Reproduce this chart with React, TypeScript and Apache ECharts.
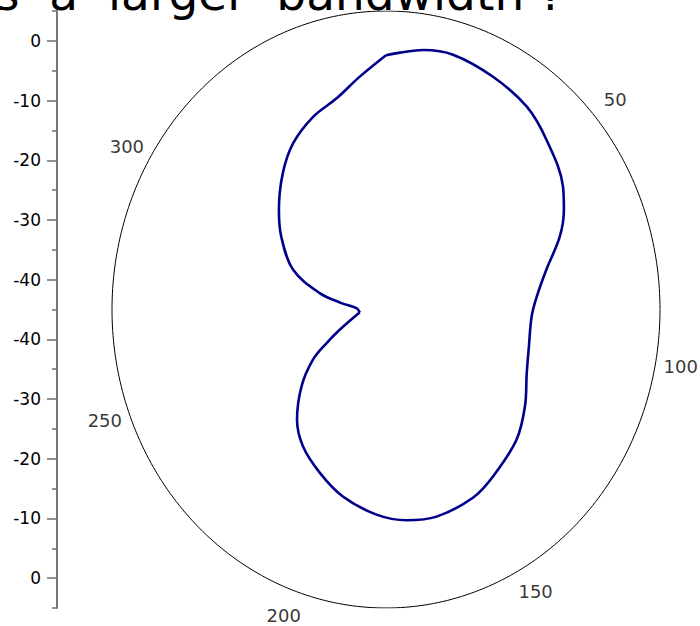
import React, { useEffect, useRef } from "react";
import * as echarts from "echarts";

// Polar pattern: angle (degrees, clockwise from top) and gain (dB)
const angles = [
  0, 3.4, 8.9, 16.0, 26.6, 37.1, 45.9, 57.5, 62.8, 68.9, 77.2, 85.5, 92.5,
  103.3, 112.5, 122.6, 132.5, 145.0, 153.3, 165.1, 173.9, 182.9, 194.1, 203.8,
  213.4, 221.3, 230.1, 237.7, 242.6, 248.1, 264.4, 272.5, 277.5, 282.8, 291.4,
  302.6, 310.5, 320.5, 328.7, 337.6, 345.7, 353.0, 360,
];
const gainDb = [
  -2.4, -1.9, -1.0, -0.6, -1.4, -2.4, -4.2, -6.7, -8.5, -11.0, -15.0, -17.4,
  -18.4, -18.2, -17.2, -14.9, -12.7, -10.9, -9.7, -9.1, -9.5, -10.6, -12.7,
  -15.1, -17.5, -20.4, -24.9, -29.2, -32.8, -35.9, -40.2, -39.6, -36.8, -32.6,
  -26.8, -22.3, -19.3, -15.4, -12.4, -10.1, -8.5, -5.7, -2.4,
];
const angleTickLabels = [50, 100, 150, 200, 250, 300];
const radialTickLabels = [0, -10, -20, -30, -40];
const radialMinorTicks = [5, -5, -15, -25, -35, -45];
const radialMin = -45;
const radialMax = 5;
const angleLabelRadius = 9.6;
const titleText = "s  a  larger  bandwidth ?";

const span = radialMax - radialMin;
const toXY = (deg: number, db: number) => {
  const rho = db - radialMin;
  const t = (deg * Math.PI) / 180;
  return [rho * Math.sin(t), rho * Math.cos(t)];
};

export default function App() {
  const ref = useRef<HTMLDivElement>(null);
  useEffect(() => {
    if (!ref.current) return;
    const chart = echarts.init(ref.current, undefined, { renderer: "svg" });

    const pts = angles.map((a, i) => toXY(a, gainDb[i]));
    let tipIdx = 0;
    gainDb.forEach((g, i) => {
      if (g < gainDb[tipIdx]) tipIdx = i;
    });
    const seg1 = pts.slice(0, tipIdx + 1);
    const seg2 = pts.slice(tipIdx);

    const frame: number[][] = [];
    for (let a = 0; a <= 360; a += 1) frame.push(toXY(a, radialMax));

    const labelPts = angleTickLabels.map((a) => {
      const [x, y] = toXY(a, angleLabelRadius);
      return { value: [x, y], name: String(a) };
    });

    const majorVals: number[] = [];
    radialTickLabels.forEach((t) => {
      const r = t - radialMin;
      majorVals.push(r, -r);
    });
    const minorVals: number[] = [];
    radialMinorTicks.forEach((t) => {
      const r = t - radialMin;
      minorVals.push(r);
      if (r !== 0) minorVals.push(-r);
    });

    const axisColor = "#6e6e6e";
    const lineStyle = { color: "#00008b", width: 2.6 };

    chart.setOption({
      animation: false,
      grid: { left: 112, top: 11, width: 548, height: 597, containLabel: false },
      xAxis: { type: "value", min: -span, max: span, show: false },
      yAxis: [
        { type: "value", min: -span, max: span, show: false },
        {
          type: "value",
          min: -span,
          max: span,
          position: "left",
          offset: 55,
          axisLine: { show: true, lineStyle: { color: axisColor, width: 1.5 } },
          axisTick: {
            show: true,
            length: 5,
            customValues: minorVals,
            lineStyle: { color: axisColor, width: 1.5 },
          },
          axisLabel: { show: false },
          splitLine: { show: false },
        },
        {
          type: "value",
          min: -span,
          max: span,
          position: "left",
          offset: 55,
          axisLine: { show: true, lineStyle: { color: axisColor, width: 1.5 } },
          axisTick: {
            show: true,
            length: 10,
            customValues: majorVals,
            lineStyle: { color: axisColor, width: 1.5 },
          },
          axisLabel: {
            show: true,
            customValues: majorVals,
            margin: 16,
            fontSize: 17,
            fontFamily: "DejaVu Sans",
            color: "#000",
            formatter: (v: number) => String(Math.round(Math.abs(v) + radialMin)),
          },
          splitLine: { show: false },
        },
      ],
      graphic: [
        {
          type: "text",
          x: -5,
          y: -7,
          style: {
            text: titleText,
            font: '47px "DejaVu Sans"',
            fill: "#000",
            align: "left",
            verticalAlign: "middle",
          },
        },
      ],
      series: [
        {
          type: "line",
          data: frame,
          showSymbol: false,
          silent: true,
          lineStyle: { color: "#000", width: 1 },
        },
        {
          type: "line",
          data: seg1,
          showSymbol: false,
          smooth: 0.35,
          lineStyle,
        },
        {
          type: "line",
          data: seg2,
          showSymbol: false,
          smooth: 0.35,
          lineStyle,
        },
        {
          type: "scatter",
          data: labelPts,
          symbolSize: 0,
          silent: true,
          clip: false,
          label: {
            show: true,
            position: "inside",
            formatter: (p: any) => p.name,
            fontSize: 18,
            fontFamily: "DejaVu Sans",
            color: "#000",
          },
        },
      ],
    });
    return () => chart.dispose();
  }, []);
  return (
    <div
      ref={ref}
      style={{ position: "fixed", left: 0, top: 0, width: 700, height: 626, background: "#fff" }}
    />
  );
}
